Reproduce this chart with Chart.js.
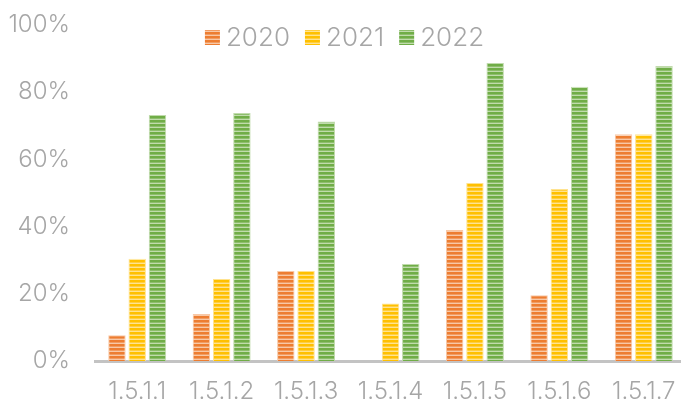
<!DOCTYPE html>
<html>
<head>
<meta charset="utf-8">
<script src="https://cdn.jsdelivr.net/npm/chart.js@4.4.0/dist/chart.umd.min.js"></script>
<style>
html, body { margin: 0; padding: 0; background: #fff; }
#wrap { width: 681px; height: 403px; }
</style>
</head>
<body>
<div id="wrap"><canvas id="barChart"></canvas></div>
<script>
// data
var categories = ["1.5.1.1", "1.5.1.2", "1.5.1.3", "1.5.1.4", "1.5.1.5", "1.5.1.6", "1.5.1.7"];
var years = ["2020", "2021", "2022"];
var values2020 = [7.7, 14.0, 26.8, 0, 39.0, 19.6, 67.5];
var values2021 = [30.4, 24.4, 26.8, 17.1, 53.0, 51.2, 67.5];
var values2022 = [73.2, 73.8, 71.3, 28.9, 88.7, 81.6, 87.8];
var yTicks = [0, 20, 40, 60, 80, 100];

var darkCols = ["#ED7D31", "#FFC000", "#70AD47"];
var midCols = ["#F19C62", "#FFCE40", "#8DBE6C"];
var lightCols = ["#F8C8A6", "#FFE38F", "#C0DBAC"];
var textGray = "#A6A6A6";
var fontFam = "Inter, Lato, 'Noto Sans', sans-serif";

// horizontal stripes like the office pattern fill
function stripes(dark, mid, light)
{
	var c = document.createElement("canvas");
	c.width = 4; c.height = 4;
	var x = c.getContext("2d");
	x.fillStyle = dark;
	x.fillRect(0, 0, 4, 2);
	x.fillStyle = mid;
	x.fillRect(0, 2, 4, 1);
	x.fillStyle = light;
	x.fillRect(0, 3, 4, 1);
	return x.createPattern(c, "repeat");
}

var allValues = [values2020, values2021, values2022];
var sets = [];
for (var i = 0; i < years.length; i++)
{
	sets.push({
		label: years[i],
		data: allValues[i],
		backgroundColor: stripes(darkCols[i], midCols[i], lightCols[i]),
		borderColor: lightCols[i],
		borderWidth: { top: 1, left: 1, right: 1, bottom: 0 },
		categoryPercentage: 0.72,
		barPercentage: 0.86
	});
}

// the plot in the original runs a few px past the right edge
var widenPlot = {
	id: "widenPlot",
	afterLayout: function(chart)
	{
		var extra = 5;
		var sx = chart.scales.x;
		sx.right += extra;
		sx.width += extra;
		sx.configure();
		chart.chartArea.right += extra;
		chart.chartArea.width += extra;
	}
};

// legend drawn over the top of the plot, like the original
var topLegend = {
	id: "topLegend",
	afterDraw: function(chart)
	{
		var ctx = chart.ctx;
		var box = 15, gapText = 6, gapItem = 15;
		ctx.save();
		ctx.font = "300 26px " + fontFam;
		var total = 0;
		chart.data.datasets.forEach(function(ds, k) {
			total += box + gapText + ctx.measureText(ds.label).width;
			if (k < chart.data.datasets.length - 1) total += gapItem;
		});
		var x = 344.5 - total / 2;
		var yMid = 38;
		chart.data.datasets.forEach(function(ds) {
			ctx.fillStyle = ds.backgroundColor;
			ctx.fillRect(x, yMid - 8, box, box);
			x += box + gapText;
			ctx.fillStyle = textGray;
			ctx.textBaseline = "middle";
			ctx.textAlign = "left";
			ctx.fillText(ds.label, x, yMid);
			x += ctx.measureText(ds.label).width + gapItem;
		});
		ctx.restore();
	}
};

var chart = new Chart("barChart",
{
	type: "bar",
	data:
	{
		labels: categories,
		datasets: sets
	},
	options:
	{
		responsive: true,
		maintainAspectRatio: false,
		animation: false,
		layout: { padding: { top: 0, right: 0, left: 0, bottom: 0 } },
		plugins:
		{
			legend: { display: false },
			tooltip: { enabled: false }
		},
		scales:
		{
			x:
			{
				grid: { display: false, drawTicks: false },
				border: { display: true, color: "#C3C3C3", width: 3 },
				ticks: { color: textGray, font: { family: fontFam, size: 24, weight: 300 }, padding: 16, maxRotation: 0 },
				afterFit: function(s) { s.height = 42; s.paddingLeft = 0; s.paddingRight = 0; }
			},
			y:
			{
				min: 0,
				max: 100,
				grid: { display: false, drawTicks: false },
				border: { display: false },
				afterBuildTicks: function(s) { s.ticks = yTicks.map(function(v) { return { value: v }; }); },
				ticks:
				{
					color: textGray,
					font: { family: fontFam, size: 24, weight: 300 },
					padding: 25,
					callback: function(v) { return v + "%"; }
				},
				afterFit: function(s) { s.width = 95; s.paddingTop = 25; s.paddingBottom = 0; }
			}
		}
	},
	plugins: [widenPlot, topLegend]
});
</script>
</body>
</html>
